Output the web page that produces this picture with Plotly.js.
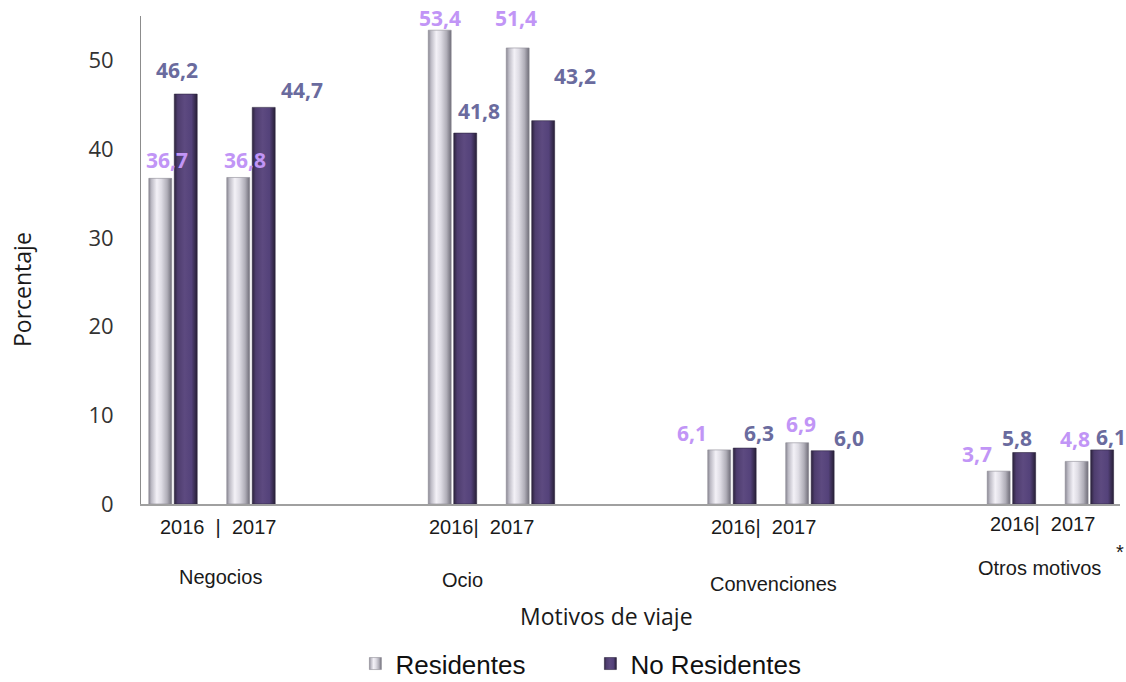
<!DOCTYPE html>
<html>
<head>
<meta charset="utf-8">
<script src="https://cdn.plot.ly/plotly-3.0.1.min.js"></script>
<style>
  html, body { margin: 0; padding: 0; background: #fff; }
  #chart { width: 1126px; height: 682px; }
</style>
</head>
<body>
<div id="chart"></div>
<script>
// ---- data ----
const groups = ['Negocios', 'Ocio', 'Convenciones', 'Otros motivos'];
const years = ['2016', '2017'];
const yearLabels = ['2016\u00a0 |\u00a0 2017', '2016|\u00a0 2017', '2016|\u00a0 2017', '2016|\u00a0 2017'];
// order: Negocios 2016, Negocios 2017, Ocio 2016, Ocio 2017, Convenciones 2016, 2017, Otros 2016, 2017
const residentes = [36.7, 36.8, 53.4, 51.4, 6.1, 6.9, 3.7, 4.8];
const noResidentes = [46.2, 44.7, 41.8, 43.2, 6.3, 6.0, 5.8, 6.1];
const yTicks = [0, 10, 20, 30, 40, 50];
const seriesNames = ['Residentes', 'No Residentes'];

// ---- layout helpers (positions / styles) ----
const pairHalf = 0.1395;      // distance of each year pair from group center
const barW = 0.082;
const resOffset = -0.0866;
const noResOffset = 0.0046;
const xPos = residentes.map((_, i) => Math.floor(i / 2) + (i % 2 === 0 ? -pairHalf : pairHalf));

// label nudges in pixels [dx, dy above bar top], as placed in the original
const resLabelNudge = [[7, 18], [7, 17], [0, 12], [-2, 30], [-27, 17], [4, 19], [-22, 17], [-2, 22]];
const noResLabelNudge = [[-9, 24], [38, 17], [14, 22], [32, 45], [14, 15], [26, 13], [-7, 15], [9, 13]];

const resColor = '#c8c6d0';
const noResColor = '#574576';
const resLabelColor = '#c195f6';
const noResLabelColor = '#6a6b9e';

function fmt(v) { return v.toFixed(1).replace('.', ','); }

const traces = [
  {
    type: 'bar', name: seriesNames[0], x: xPos, y: residentes,
    width: barW, offset: resOffset,
    marker: { color: resColor, line: { color: '#8d8b96', width: 0.6 } },
    hoverinfo: 'skip'
  },
  {
    type: 'bar', name: seriesNames[1], x: xPos, y: noResidentes,
    width: barW, offset: noResOffset,
    marker: { color: noResColor, line: { color: '#2e2540', width: 0.6 } },
    hoverinfo: 'skip'
  }
];

const annotations = [];
// value labels
residentes.forEach((v, i) => annotations.push({
  x: xPos[i] + resOffset + barW / 2, y: v, xref: 'x', yref: 'y',
  text: fmt(v), showarrow: false, xanchor: 'center', yanchor: 'middle',
  xshift: resLabelNudge[i][0], yshift: resLabelNudge[i][1],
  font: { family: 'Open Sans, sans-serif', size: 21, color: resLabelColor, weight: 'bold' }
}));
noResidentes.forEach((v, i) => annotations.push({
  x: xPos[i] + noResOffset + barW / 2, y: v, xref: 'x', yref: 'y',
  text: fmt(v), showarrow: false, xanchor: 'center', yanchor: 'middle',
  xshift: noResLabelNudge[i][0], yshift: noResLabelNudge[i][1],
  font: { family: 'Open Sans, sans-serif', size: 21, color: noResLabelColor, weight: 'bold' }
}));

// category labels (year pair line and group name)
const yearLabelPos = [[0.023, -0.047], [-0.034, -0.047], [-0.027, -0.047], [-0.027, -0.041]];
const groupLabelPos = [[0.031, -0.150], [-0.102, -0.156], [0.009, -0.164], [-0.038, -0.131]];
groups.forEach((g, k) => {
  annotations.push({
    x: k + yearLabelPos[k][0], y: yearLabelPos[k][1], xref: 'x', yref: 'paper',
    text: yearLabels[k], showarrow: false, xanchor: 'center', yanchor: 'middle',
    font: { family: 'Liberation Sans, Arial, sans-serif', size: 20, color: '#1a1a1a' }
  });
  annotations.push({
    x: k + groupLabelPos[k][0], y: groupLabelPos[k][1], xref: 'x', yref: 'paper',
    text: g, showarrow: false, xanchor: 'center', yanchor: 'middle',
    font: { family: 'Liberation Sans, Arial, sans-serif', size: 20, color: '#1a1a1a' }
  });
});
annotations.push({
  x: 0.9995, y: -0.098, xref: 'paper', yref: 'paper', text: '*', showarrow: false,
  xanchor: 'center', yanchor: 'middle',
  font: { family: 'Liberation Sans, Arial, sans-serif', size: 20, color: '#1a1a1a' }
});
// axis titles
annotations.push({
  x: (607 - 212) / 279.5, y: -(616 - 504) / 488, xref: 'x', yref: 'paper', text: 'Motivos de viaje',
  showarrow: false, xanchor: 'center', yanchor: 'middle',
  font: { family: 'Open Sans, sans-serif', size: 23, color: '#1a1a1a' }
});
annotations.push({
  x: -(141 - 22) / 979, y: (504 - 290) / 488, xref: 'paper', yref: 'paper', text: 'Porcentaje',
  showarrow: false, textangle: -90, xanchor: 'center', yanchor: 'middle',
  font: { family: 'Open Sans, sans-serif', size: 23, color: '#1a1a1a' }
});

const layout = {
  width: 1126, height: 682,
  margin: { l: 141, r: 6, t: 16, b: 178, autoexpand: false },
  paper_bgcolor: '#ffffff', plot_bgcolor: '#ffffff',
  showlegend: true,
  legend: {
    orientation: 'h', x: 0.219, y: -0.279, xanchor: 'left', yanchor: 'top',
    font: { family: 'Liberation Sans, Arial, sans-serif', size: 26, color: '#111' },
    entrywidth: 190, entrywidthmode: 'pixels',
    bgcolor: 'rgba(0,0,0,0)'
  },
  xaxis: {
    range: [-0.254, 3.249], showgrid: false, zeroline: false,
    showline: true, linecolor: '#a0a0a0', linewidth: 2,
    showticklabels: false, ticks: '', fixedrange: true
  },
  yaxis: {
    range: [0, 55], showgrid: false, zeroline: false,
    showline: true, linecolor: '#8c8c8c', linewidth: 1,
    tickvals: yTicks, ticktext: yTicks.map(String), ticks: '',
    ticklabelstandoff: 22,
    tickfont: { family: 'Open Sans, sans-serif', size: 22, color: '#333333' },
    fixedrange: true
  },
  annotations: annotations
};

Plotly.newPlot('chart', traces, layout, { staticPlot: true, displayModeBar: false }).then(gd => {
  const ns = 'http://www.w3.org/2000/svg';
  const svg = gd.querySelector('svg.main-svg');
  let defs = svg.querySelector('defs');
  if (!defs) { defs = document.createElementNS(ns, 'defs'); svg.insertBefore(defs, svg.firstChild); }
  function addGrad(id, stops) {
    const lg = document.createElementNS(ns, 'linearGradient');
    lg.setAttribute('id', id);
    lg.setAttribute('x1', '0'); lg.setAttribute('x2', '1');
    lg.setAttribute('y1', '0'); lg.setAttribute('y2', '0');
    stops.forEach(([o, c]) => {
      const s = document.createElementNS(ns, 'stop');
      s.setAttribute('offset', o); s.setAttribute('stop-color', c);
      lg.appendChild(s);
    });
    defs.appendChild(lg);
  }
  addGrad('gradRes', [['0', '#8a8893'], ['0.12', '#bdbbc5'], ['0.35', '#f3f1f7'], ['0.55', '#dedce4'], ['0.8', '#b0aeb8'], ['1', '#6f6d78']]);
  addGrad('gradNoRes', [['0', '#2c233c'], ['0.15', '#4e3d6e'], ['0.45', '#5d4a80'], ['0.75', '#54427a'], ['1', '#271f36']]);
  const ids = ['gradRes', 'gradNoRes'];
  gd.querySelectorAll('.barlayer .trace').forEach((t, i) => {
    t.querySelectorAll('path').forEach(p => { p.style.fill = 'url(#' + ids[i] + ')'; });
  });
  gd.querySelectorAll('.legend .traces').forEach((t, i) => {
    t.querySelectorAll('.legendpoints path').forEach(p => { p.style.fill = 'url(#' + ids[i] + ')'; });
  });
});
</script>
</body>
</html>
